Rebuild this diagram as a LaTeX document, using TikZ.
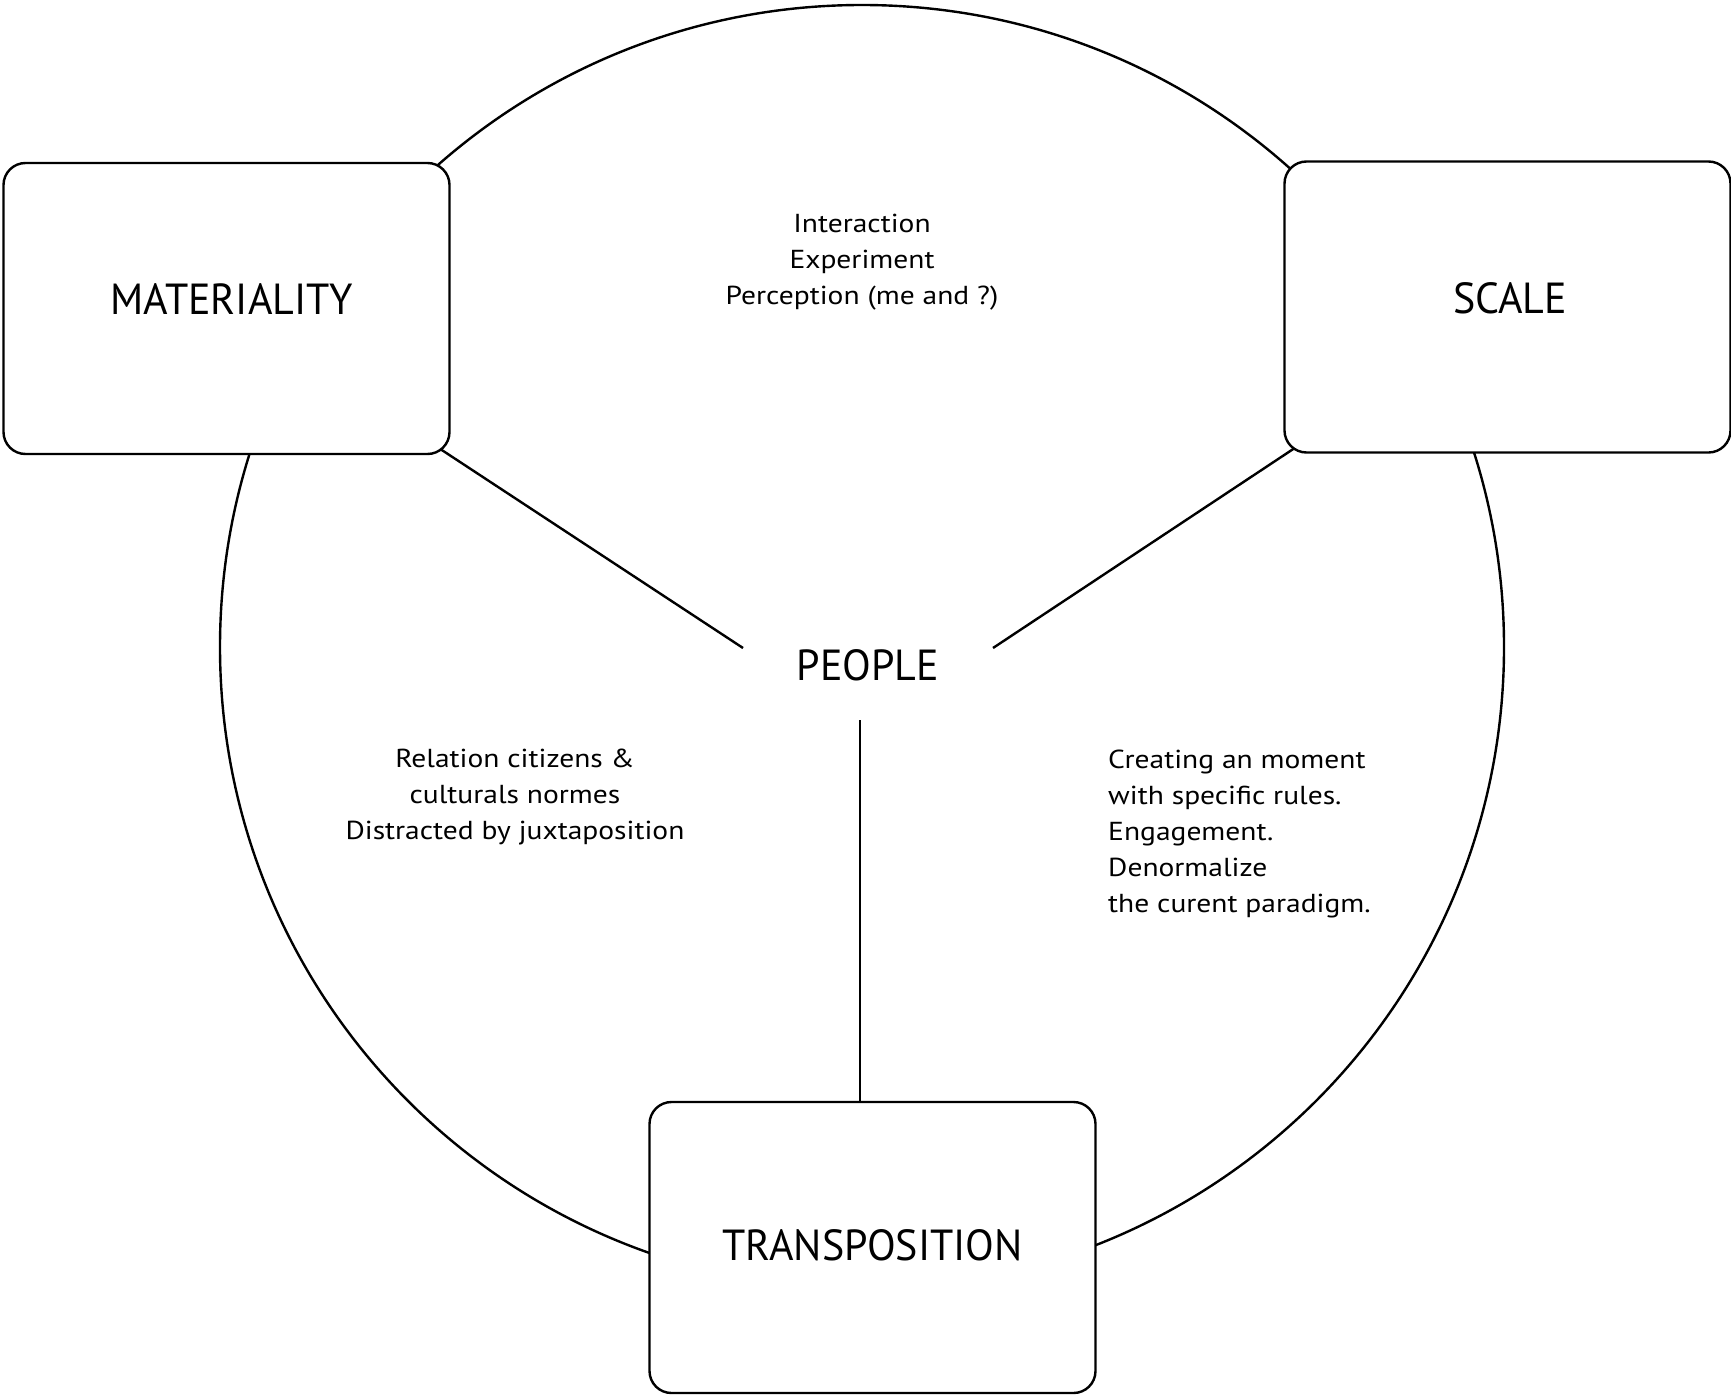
\documentclass[tikz,border=0pt]{standalone}
\usepackage{fontspec}
\setmainfont{PT Sans}
\newfontfamily\smallfont[FakeStretch=1.135]{PT Sans}
\newfontfamily\bigfont[FakeStretch=0.965]{PT Sans}
\pgfdeclarelayer{background}
\pgfsetlayers{background,main}
\begin{document}
\begin{tikzpicture}[x=1pt,y=-1pt,
  line width=2.4pt,
  box/.style={draw, line width=2.4pt, fill=white, rounded corners=22pt, minimum width=446pt, minimum height=291pt, inner sep=0pt},
  bigtext/.style={font=\bigfont\fontsize{43.5}{52}\selectfont, inner sep=0pt},
  smalltext/.style={font=\smallfont\fontsize{26}{36}\selectfont, inner sep=0pt},
  link/.style={line width=2.4pt}
]
\useasboundingbox (0,0) rectangle (1731,1394);
\node[box, label={[bigtext, xshift=5pt, yshift=9.5pt]center:MATERIALITY}] (mat) at (226.5,308.5) {};
\node[box, label={[bigtext, xshift=2.5pt, yshift=9pt]center:SCALE}] (sc) at (1507.5,307) {};
\node[box, label={[bigtext, yshift=2.5pt]center:TRANSPOSITION}] (tr) at (872.5,1247.5) {};
\node[bigtext] (people) at (868,665) {PEOPLE};
\node[smalltext, align=center] (top) at (862,262) {Interaction\\Experiment\\Perception (me and ?)};
\node[smalltext, align=center] (left) at (515,796.5) {Relation citizens \&\\culturals normes\\Distracted by juxtaposition};
\node[smalltext, align=left, anchor=west] (right) at (1107,833.5) {Creating an moment\\with specific rules.\\Engagement.\\Denormalize\\the curent paradigm.};
\coordinate (pl) at (743,648);
\coordinate (pr) at (993,648);
\coordinate (pv) at (860,720);
\begin{pgfonlayer}{background}
\draw[link] (862,647) circle[radius=642];
\draw[link] (mat.center) -- (pl);
\draw[link] (sc.center) -- (pr);
\draw[link] (pv) -- (pv |- tr.north);
\end{pgfonlayer}
\end{tikzpicture}
\end{document}
